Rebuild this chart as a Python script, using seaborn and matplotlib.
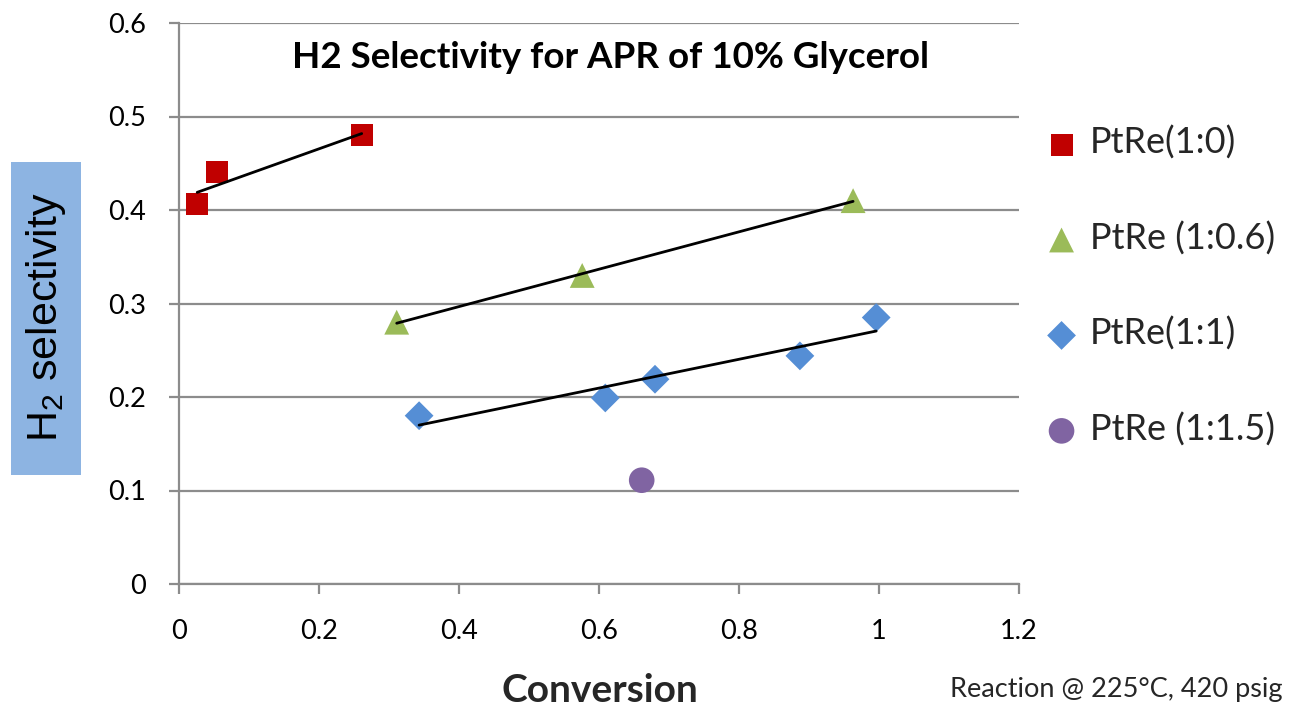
import numpy as np
import pandas as pd
import matplotlib
matplotlib.use("Agg")
import matplotlib.pyplot as plt
import seaborn as sns
from matplotlib.patches import Rectangle

# ---- data ----
series_names = ["PtRe(1:0)", "PtRe (1:0.6)", "PtRe(1:1)", "PtRe (1:1.5)"]
x_10 = [0.026, 0.054, 0.261]
y_10 = [0.406, 0.441, 0.480]
x_106 = [0.311, 0.576, 0.963]
y_106 = [0.280, 0.330, 0.410]
x_11 = [0.343, 0.609, 0.680, 0.887, 0.996]
y_11 = [0.180, 0.199, 0.219, 0.244, 0.285]
x_115 = [0.661]
y_115 = [0.111]

x_ticks = [0, 0.2, 0.4, 0.6, 0.8, 1, 1.2]
x_tick_labels = ["0", "0.2", "0.4", "0.6", "0.8", "1", "1.2"]
y_ticks = [0, 0.1, 0.2, 0.3, 0.4, 0.5, 0.6]
y_tick_labels = ["0", "0.1", "0.2", "0.3", "0.4", "0.5", "0.6"]

colors = ["#C00000", "#9BBB59", "#558ED5", "#8064A2"]
markers = ["s", "^", "D", "o"]
sizes = [250, 320, 215, 340]
trend = [True, True, True, False]

sns.set_theme(style="white")
plt.rcParams["font.family"] = ["Lato", "DejaVu Sans"]
plt.rcParams["mathtext.fontset"] = "custom"
plt.rcParams["mathtext.rm"] = "Liberation Sans"

fig = plt.figure(figsize=(12.92, 7.07), dpi=100)
W, H = 1292, 707
ax = fig.add_axes([179 / W, 1 - 584 / H, (1019 - 179) / W, (584 - 23) / H])

grid_c = "#8C8C8C"
for yv in y_ticks:
    ax.axhline(yv, color=grid_c, lw=1.6, zorder=0)

data = [(x_10, y_10), (x_106, y_106), (x_11, y_11), (x_115, y_115)]
for (xs, ys), name, c, m, s, t in zip(data, series_names, colors, markers, sizes, trend):
    sns.scatterplot(x=xs, y=ys, marker=m, s=s, color=c, edgecolor="none",
                    label=name, ax=ax, zorder=3, legend=True)
    if t:
        sns.regplot(x=np.array(xs), y=np.array(ys), scatter=False, ci=None,
                    color="black", line_kws={"lw": 2.0, "zorder": 4}, ax=ax,
                    truncate=True)

ax.set_xlim(0, 1.2)
ax.set_ylim(0, 0.6)
ax.set_xticks(x_ticks)
ax.set_xticklabels(x_tick_labels)
ax.set_yticks(y_ticks)
ax.set_yticklabels(y_tick_labels)
ax.tick_params(axis="both", which="both", direction="out", length=7, width=1.6,
               color=grid_c, labelsize=19.5, labelcolor="black")
ax.tick_params(axis="x", pad=18, bottom=True)
ax.tick_params(axis="y", pad=17, left=True)
for side in ["top", "right"]:
    ax.spines[side].set_visible(False)
for side in ["left", "bottom"]:
    ax.spines[side].set_color(grid_c)
    ax.spines[side].set_linewidth(1.6)
ax.set_xlabel("")
ax.set_ylabel("")

# title inside plot
ax.text((611 - 179) / 840, (584 - 58) / 561, "H2 Selectivity for APR of 10% Glycerol",
        transform=ax.transAxes, ha="center", va="center", fontsize=26.5,
        fontweight="bold", color="black")

# legend
handles, labels = ax.get_legend_handles_labels()
ax.legend(handles, labels, loc="upper left",
          bbox_to_anchor=(1048 / W, 1 - 126 / H), bbox_transform=fig.transFigure,
          frameon=False, fontsize=26, handlelength=0.75, handletextpad=0.4,
          labelspacing=1.7, borderpad=0, borderaxespad=0)

# y label box
fig.patches.append(Rectangle((11 / W, 1 - 475 / H), 70 / W, 313 / H,
                             transform=fig.transFigure, facecolor="#8DB4E2",
                             edgecolor="none", zorder=0))
fig.text(46 / W, 1 - 317 / H, r"H$_\mathregular{2}$ selectivity", rotation=90,
         ha="center", va="center", fontsize=31, family="Liberation Sans",
         color="black")

# x label and note
fig.text(600 / W, 1 - 690 / H, "Conversion", ha="center", va="center",
         fontsize=28, fontweight="bold")
fig.text(1283 / W, 1 - 690 / H, "Reaction @ 225\u00b0C, 420 psig", ha="right",
         va="center", fontsize=19.5)

fig.savefig("out.png", dpi=100)
